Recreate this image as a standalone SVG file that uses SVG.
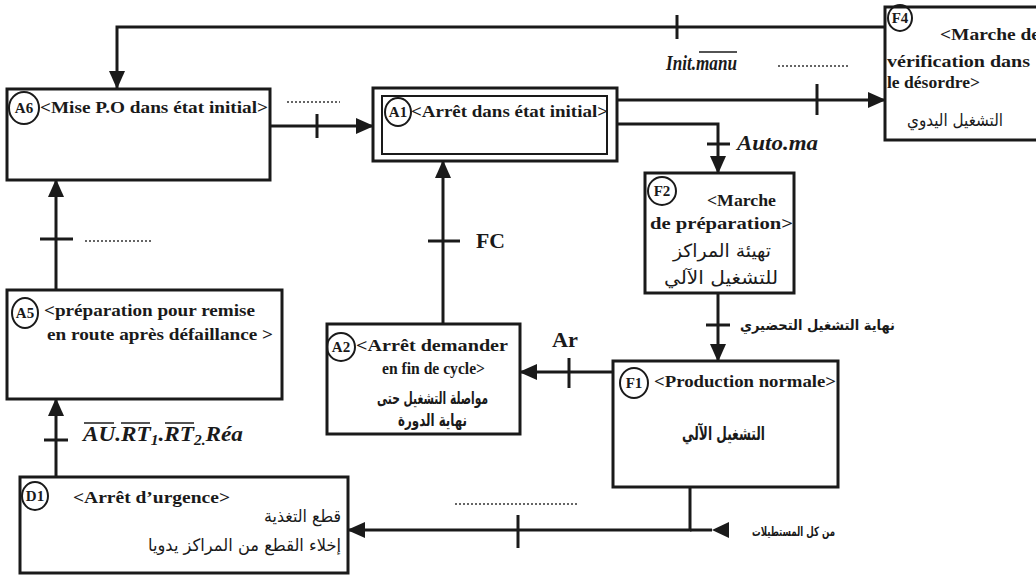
<svg xmlns="http://www.w3.org/2000/svg" width="1036" height="576" viewBox="0 0 1036 576">
<defs>
<marker id="ah" markerWidth="18" markerHeight="16" refX="17" refY="8" orient="auto" markerUnits="userSpaceOnUse"><path d="M0,0 L18,8 L0,16 z" fill="#1a1a1a"/></marker>
</defs>
<style>
.box{fill:#fff;stroke:#1a1a1a;stroke-width:3}
.inner{fill:none;stroke:#1a1a1a;stroke-width:2}
.tag{fill:none;stroke:#1a1a1a;stroke-width:2}
.con{fill:none;stroke:#1a1a1a;stroke-width:3}
.tick{stroke:#1a1a1a;stroke-width:3}
.ovl{stroke:#1a1a1a;stroke-width:1.5}
.dots{stroke:#333;stroke-width:1.5;stroke-dasharray:2 2}
.fr{font-family:"Liberation Serif","Times New Roman",serif;font-weight:bold;font-size:17px;fill:#1a1a1a}
.id{font-family:"Liberation Serif","Times New Roman",serif;font-weight:bold;font-size:15px;fill:#1a1a1a;text-anchor:middle}
.ar{font-family:"DejaVu Sans",sans-serif;font-size:17px;fill:#1a1a1a}
.arb{font-family:"DejaVu Sans",sans-serif;font-size:14px;font-weight:bold;fill:#1a1a1a}
.it{font-family:"Liberation Serif","Times New Roman",serif;font-weight:bold;font-style:italic;font-size:20px;fill:#1a1a1a}
</style>

<g id="connectors">
<path class="con" d="M885,27 H117 V88" marker-end="url(#ah)"/>
<path class="con" d="M270,126 H373" marker-end="url(#ah)"/>
<path class="con" d="M617,100 H885" marker-end="url(#ah)"/>
<path class="con" d="M617,124 H718 V173" marker-end="url(#ah)"/>
<path class="con" d="M718,293 V361" marker-end="url(#ah)"/>
<path class="con" d="M613,372 H520" marker-end="url(#ah)"/>
<path class="con" d="M443,324 V161" marker-end="url(#ah)"/>
<path class="con" d="M56,290 V180" marker-end="url(#ah)"/>
<path class="con" d="M56,477 V399" marker-end="url(#ah)"/>
<path class="con" d="M690,487 V530 H348" marker-end="url(#ah)"/>
<path class="con" d="M690,530 H712"/>
<polygon points="712,530 729,522 729,538" fill="#1a1a1a"/>
<line class="tick" x1="677" y1="15" x2="677" y2="39"/>
<line class="tick" x1="317" y1="114" x2="317" y2="138"/>
<line class="tick" x1="817" y1="84" x2="817" y2="115"/>
<line class="tick" x1="707" y1="144" x2="730" y2="144"/>
<line class="tick" x1="706" y1="325" x2="730" y2="325"/>
<line class="tick" x1="569" y1="358" x2="569" y2="388"/>
<line class="tick" x1="428" y1="241" x2="460" y2="241"/>
<line class="tick" x1="40" y1="239" x2="73" y2="239"/>
<line class="tick" x1="44" y1="440" x2="68" y2="440"/>
<line class="tick" x1="518" y1="515" x2="518" y2="548"/>
<line class="dots" x1="287" y1="102" x2="340" y2="102"/>
<line class="dots" x1="778" y1="66" x2="850" y2="66"/>
<line class="dots" x1="85" y1="241" x2="152" y2="241"/>
<line class="dots" x1="455" y1="504" x2="578" y2="504"/>
<text class="it" x="666" y="70" textLength="71" lengthAdjust="spacingAndGlyphs">Init.manu</text>
<line class="ovl" x1="699" y1="52" x2="737" y2="52"/>
<text class="it" x="737" y="150" textLength="81" lengthAdjust="spacingAndGlyphs">Auto.ma</text>
<text class="fr" x="476" y="248" style="font-size:20px" textLength="29" lengthAdjust="spacingAndGlyphs">FC</text>
<text class="fr" x="552" y="347" style="font-size:20px" textLength="26" lengthAdjust="spacingAndGlyphs">Ar</text>
<text class="arb" x="740" y="330" textLength="155" lengthAdjust="spacingAndGlyphs">نهاية التشغيل التحضيري</text>
<text class="arb" x="752" y="536" style="font-size:13px" textLength="83" lengthAdjust="spacingAndGlyphs">من كل المستطيلات</text>
<text class="it" x="83" y="441" style="font-size:21px" textLength="160" lengthAdjust="spacingAndGlyphs">AU.RT<tspan style="font-size:14px" dy="4">1</tspan><tspan dy="-4">.RT</tspan><tspan style="font-size:14px" dy="4">2.</tspan><tspan dy="-4">Réa</tspan></text>
<line class="ovl" x1="84" y1="423" x2="114" y2="423"/>
<line class="ovl" x1="121" y1="423" x2="150" y2="423"/>
<line class="ovl" x1="165" y1="423" x2="194" y2="423"/>
</g>

<g id="A6">
<rect class="box" x="7" y="89" width="263" height="91"/>
<ellipse class="tag" cx="24" cy="108" rx="15" ry="16"/>
<text class="id" x="24" y="113">A6</text>
<text class="fr" x="40" y="113" textLength="228" lengthAdjust="spacingAndGlyphs">&lt;Mise P.O dans état initial&gt;</text>
</g>

<g id="A1">
<rect class="box" x="373" y="88" width="244" height="73"/>
<rect class="inner" x="382" y="96" width="225" height="58"/>
<ellipse class="tag" cx="398" cy="112" rx="13" ry="14"/>
<text class="id" x="398" y="117">A1</text>
<text class="fr" x="411" y="117" textLength="197" lengthAdjust="spacingAndGlyphs">&lt;Arrêt dans état initial&gt;</text>
</g>

<g id="F4">
<rect class="box" x="885" y="7" width="160" height="133"/>
<ellipse class="tag" cx="900" cy="18" rx="12" ry="13"/>
<text class="id" x="900" y="23">F4</text>
<text class="fr" x="940" y="40" textLength="100" lengthAdjust="spacingAndGlyphs">&lt;Marche de</text>
<text class="fr" x="887" y="67" textLength="143" lengthAdjust="spacingAndGlyphs">vérification dans</text>
<text class="fr" x="887" y="88" textLength="93" lengthAdjust="spacingAndGlyphs">le désordre&gt;</text>
<text class="ar" x="907" y="126" textLength="96" lengthAdjust="spacingAndGlyphs">التشغيل اليدوي</text>
</g>

<g id="F2">
<rect class="box" x="645" y="173" width="149" height="120"/>
<ellipse class="tag" cx="662" cy="191" rx="14" ry="14"/>
<text class="id" x="662" y="196">F2</text>
<text class="fr" x="707" y="206" textLength="69" lengthAdjust="spacingAndGlyphs">&lt;Marche</text>
<text class="fr" x="650" y="229" textLength="143" lengthAdjust="spacingAndGlyphs">de préparation&gt;</text>
<text class="ar" x="673" y="257" style="font-size:18px" textLength="98" lengthAdjust="spacingAndGlyphs">تهيئة المراكز</text>
<text class="ar" x="664" y="284" style="font-size:18px" textLength="114" lengthAdjust="spacingAndGlyphs">للتشغيل الآلي</text>
</g>

<g id="F1">
<rect class="box" x="613" y="361" width="225" height="126"/>
<ellipse class="tag" cx="634" cy="383" rx="14" ry="15"/>
<text class="id" x="634" y="388">F1</text>
<text class="fr" x="654" y="387" textLength="182" lengthAdjust="spacingAndGlyphs">&lt;Production normale&gt;</text>
<text class="arb" x="682" y="440" style="font-size:19px" textLength="83" lengthAdjust="spacingAndGlyphs">التشغيل الآلي</text>
</g>

<g id="A2">
<rect class="box" x="327" y="324" width="193" height="110"/>
<ellipse class="tag" cx="341" cy="347" rx="14" ry="14"/>
<text class="id" x="341" y="352">A2</text>
<text class="fr" x="356" y="351" textLength="152" lengthAdjust="spacingAndGlyphs">&lt;Arrêt demander</text>
<text class="fr" x="382" y="374" textLength="103" lengthAdjust="spacingAndGlyphs">en fin de cycle&gt;</text>
<text class="arb" x="377" y="404" style="font-size:17px" textLength="111" lengthAdjust="spacingAndGlyphs">مواصلة التشغيل حتى</text>
<text class="arb" x="398" y="426" style="font-size:17px" textLength="69" lengthAdjust="spacingAndGlyphs">نهاية الدورة</text>
</g>

<g id="A5">
<rect class="box" x="7" y="290" width="275" height="109"/>
<ellipse class="tag" cx="25" cy="313" rx="13" ry="15"/>
<text class="id" x="25" y="318">A5</text>
<text class="fr" x="44" y="316" textLength="211" lengthAdjust="spacingAndGlyphs">&lt;préparation pour remise</text>
<text class="fr" x="47" y="340" textLength="226" lengthAdjust="spacingAndGlyphs">en route après défaillance &gt;</text>
</g>

<g id="D1">
<rect class="box" x="20" y="477" width="328" height="96"/>
<ellipse class="tag" cx="35" cy="496" rx="13" ry="14"/>
<text class="id" x="35" y="501">D1</text>
<text class="fr" x="73" y="503" textLength="157" lengthAdjust="spacingAndGlyphs">&lt;Arrêt d’urgence&gt;</text>
<text class="ar" x="264" y="522" textLength="77" lengthAdjust="spacingAndGlyphs">قطع التغذية</text>
<text class="ar" x="148" y="551" textLength="193" lengthAdjust="spacingAndGlyphs">إخلاء القطع من المراكز يدويا</text>
</g>
</svg>
